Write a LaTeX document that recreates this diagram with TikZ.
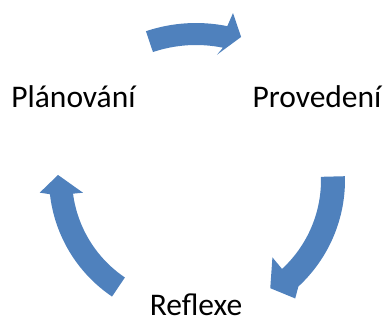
\documentclass[tikz,border=0pt]{standalone}
\usepackage{fontspec}
\setmainfont{Carlito}
\usetikzlibrary{calc}
\definecolor{arrowblue}{RGB}{79,129,189}
\begin{document}
\begin{tikzpicture}[x=1pt,y=1pt,
  cyclearrow/.style={fill=arrowblue, draw=none},
  cyclelabel/.style={inner sep=0pt, anchor=base, font=\fontsize{31.5}{36}\selectfont, text=black}]
\useasboundingbox (0,0) rectangle (386,322);
% centres of the three arcs
\coordinate (C1) at (196,142);
\coordinate (C2) at (200,142);
\coordinate (C3) at (192,144);
% labels
\node[cyclelabel] (plan) at (73.5,214) {Plánování};
\node[cyclelabel] (prov) at (317,214) {Provedení};
\node[cyclelabel] (refl) at (196,7) {Reflexe};
% top arrow
\fill[cyclearrow] ($(C1)+(108.6:157pt)$) arc[start angle=108.6, end angle=78.5, radius=157pt]
  -- ($(C1)+(77.5:171pt)$) -- ($(C1)+(72.5:150pt)$) -- ($(C1)+(80.5:127pt)$)
  -- ($(C1)+(78.5:135pt)$) arc[start angle=78.5, end angle=108.6, radius=135pt] -- cycle;
% right arrow
\fill[cyclearrow] ($(C2)+(1.5:145pt)$) arc[start angle=1.5, end angle=-47.3, radius=145pt]
  -- ($(C2)+(-51.2:152pt)$) -- ($(C2)+(-57:129pt)$) -- ($(C2)+(-46.9:106pt)$)
  -- ($(C2)+(-47.3:121pt)$) arc[start angle=-47.3, end angle=1.5, radius=121pt] -- cycle;
% left arrow
\fill[cyclearrow] ($(C3)+(236:143pt)$) arc[start angle=236, end angle=186.5, radius=143pt]
  -- ($(C3)+(185.5:153pt)$) -- ($(C3)+(178.7:134pt)$) -- ($(C3)+(187.7:110pt)$)
  -- ($(C3)+(187.5:120pt)$) arc[start angle=187.5, end angle=236, radius=120pt] -- cycle;
\end{tikzpicture}
\end{document}
